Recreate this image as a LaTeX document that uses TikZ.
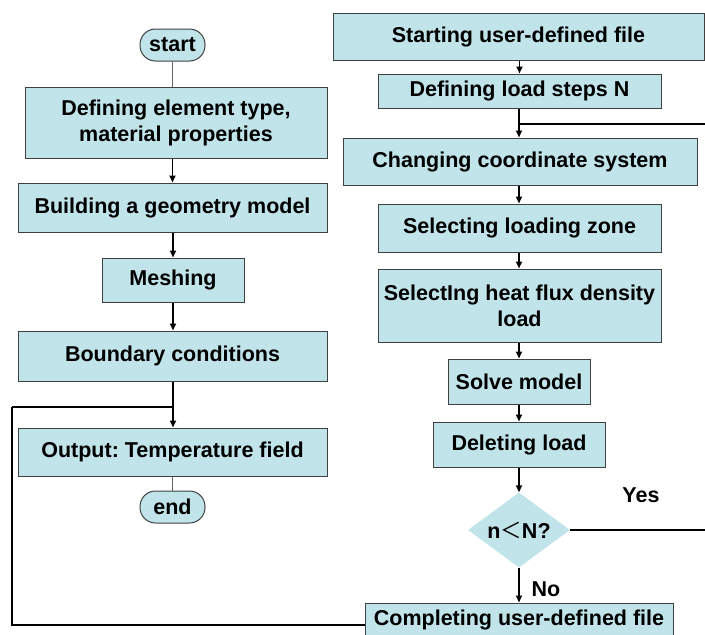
\documentclass[tikz,border=0pt]{standalone}
\usepackage{fontspec}
\setmainfont{Liberation Sans}
\newfontfamily\cjkf{Noto Sans CJK SC}
\usetikzlibrary{arrows.meta,shapes.geometric}
\definecolor{boxfill}{RGB}{192,228,234}
\definecolor{boxline}{RGB}{64,64,64}
\frenchspacing
\begin{document}
\begin{tikzpicture}[x=1pt,y=-1pt,
  every node/.style={font=\fontsize{21.5}{26}\selectfont\bfseries\frenchspacing, inner sep=0pt},
  pbox/.style={draw=boxline, line width=1pt, fill=boxfill, align=center},
  term/.style={pbox, rounded corners=15.5pt, minimum width=65pt, minimum height=32pt},
  dec/.style={diamond, fill=boxfill, minimum width=102pt, minimum height=75pt, aspect=1.36},
  flow/.style={line width=1.8pt, -{Triangle[length=7pt,width=6pt]}},
  plain/.style={line width=1.8pt},
  thin/.style={draw=boxline!80, line width=0.6pt}]
\useasboundingbox (0,0) rectangle (705,635);
% left column
\node[term] (start) at (172.5,45) {start};
\node[pbox, minimum width=302pt, minimum height=71pt] (b1) at (176,122.5) {Defining element type,\\material properties};
\node[pbox, minimum width=309pt, minimum height=49pt] (b2) at (172.5,207.5) {Building a geometry model};
\node[pbox, minimum width=142pt, minimum height=44pt] (mesh) at (173,280) {Meshing};
\node[pbox, minimum width=309pt, minimum height=50pt] (bc) at (172.5,356) {Boundary conditions};
\node[pbox, minimum width=309pt, minimum height=48pt] (out) at (172.5,452) {Output: Temperature field};
\node[term] (end) at (172.5,507) {end};
% right column
\node[pbox, minimum width=371pt, minimum height=47pt] (s1) at (518.5,36.5) {Starting user-defined file};
\node[pbox, minimum width=283pt, minimum height=34pt] (s2) at (519.5,91) {Defining load steps N};
\node[pbox, minimum width=354pt, minimum height=47pt] (s3) at (520,161.5) {Changing coordinate system};
\node[pbox, minimum width=283pt, minimum height=48pt] (s4) at (519.5,228) {Selecting loading zone};
\node[pbox, minimum width=283pt, minimum height=73pt] (s5) at (519.5,305.5) {SelectIng heat flux density\\load};
\node[pbox, minimum width=142pt, minimum height=45pt] (s6) at (519,381.5) {Solve model};
\node[pbox, minimum width=172pt, minimum height=45pt] (s7) at (519,444.5) {Deleting load};
\node[dec] (d) at (519,530) {n{\cjkf\mdseries ＜}N?};
\node[pbox, minimum width=308pt, minimum height=34pt] (s8) at (519,620) {Completing user-defined file};
\node (yes) at (641,495) {Yes};
\node (no) at (546,589) {No};
% coordinates
\coordinate (jl) at (173,407);
\coordinate (ll) at (12,407);
\coordinate (lb) at (12,625);
\coordinate (jr) at (519,124);
\coordinate (rr) at (709,530);
% left connectors
\draw[thin] (start.south) -- (start.south |- b1.north);
\draw[flow] (b1.south -| b2.north) -- (b2.north);
\draw[flow] (b2.south -| mesh.north) -- (mesh.north);
\draw[flow] (mesh.south) -- (mesh.south |- bc.north);
\draw[plain] (bc.south -| jl) -- (jl);
\draw[flow] (jl) -- (jl |- out.north);
\draw[thin] (out.south -| end.north) -- (end.north);
\draw[plain] (ll) -- (jl);
\draw[plain] (s8.west |- lb) -- (lb) -- (ll);
% right connectors
\draw[flow] (s1.south -| s2.north) -- (s2.north);
\draw[plain] (jr |- s2.south) -- (jr);
\draw[flow] (jr) -- (jr |- s3.north);
\draw[plain] (d.east) -- (rr) |- (jr);
\draw[flow] (jr |- s3.south) -- (jr |- s4.north);
\draw[flow] (jr |- s4.south) -- (jr |- s5.north);
\draw[flow] (jr |- s5.south) -- (jr |- s6.north);
\draw[flow] (jr |- s6.south) -- (jr |- s7.north);
\draw[flow] (jr |- s7.south) -- (d.north);
\draw[flow] (d.south) -- (d.south |- s8.north);
\end{tikzpicture}
\end{document}
